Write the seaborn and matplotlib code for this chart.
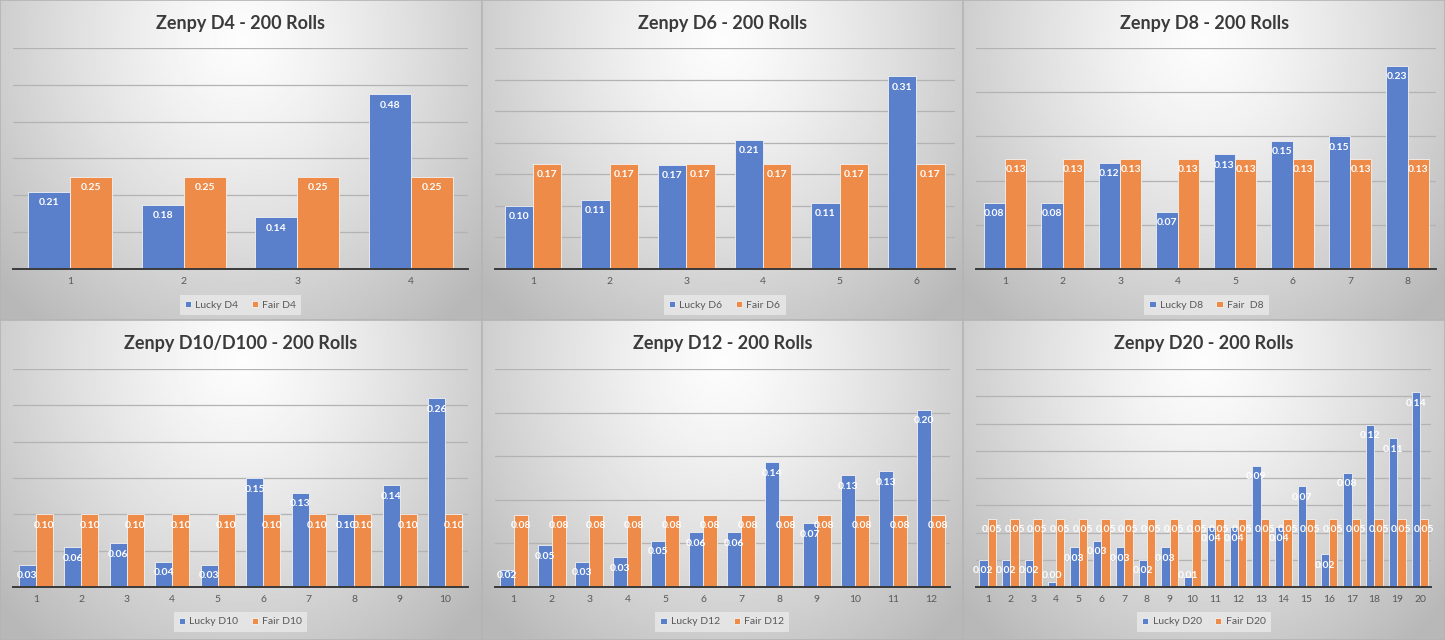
import numpy as np
import pandas as pd
import matplotlib
matplotlib.use("Agg")
import matplotlib.pyplot as plt
import seaborn as sns

# data (fraction of 200 rolls)
d4_faces = ["1", "2", "3", "4"]
d4_lucky = [0.21, 0.175, 0.14, 0.475]
d4_fair = [0.25, 0.25, 0.25, 0.25]

d6_faces = ["1", "2", "3", "4", "5", "6"]
d6_lucky = [0.10, 0.11, 0.165, 0.205, 0.105, 0.305]
d6_fair = [0.167] * 6

d8_faces = ["1", "2", "3", "4", "5", "6", "7", "8"]
d8_lucky = [0.075, 0.075, 0.12, 0.065, 0.13, 0.145, 0.15, 0.23]
d8_fair = [0.125] * 8

d10_faces = ["1", "2", "3", "4", "5", "6", "7", "8", "9", "10"]
d10_lucky = [0.03, 0.055, 0.06, 0.035, 0.03, 0.15, 0.13, 0.10, 0.14, 0.26]
d10_fair = [0.10] * 10

d12_faces = ["1", "2", "3", "4", "5", "6", "7", "8", "9", "10", "11", "12"]
d12_lucky = [0.019, 0.048, 0.029, 0.034, 0.053, 0.063, 0.063, 0.143, 0.073, 0.128, 0.133, 0.203]
d12_fair = [0.083] * 12

d20_faces = [str(i) for i in range(1, 21)]
d20_lucky = [0.02, 0.02, 0.02, 0.004, 0.029, 0.034, 0.029, 0.02, 0.029, 0.007,
             0.044, 0.044, 0.089, 0.044, 0.074, 0.024, 0.084, 0.119, 0.109, 0.143]
d20_fair = [0.05] * 20

titles = ["Zenpy D4 - 200 Rolls", "Zenpy D6 - 200 Rolls", "Zenpy D8 - 200 Rolls",
          "Zenpy D10/D100 - 200 Rolls", "Zenpy D12 - 200 Rolls", "Zenpy D20 - 200 Rolls"]
lucky_names = ["Lucky D4", "Lucky D6", "Lucky D8", "Lucky D10", "Lucky D12", "Lucky D20"]
fair_names = ["Fair D4", "Fair D6", "Fair  D8", "Fair D10", "Fair D12", "Fair D20"]
y_max = [0.6, 0.35, 0.25, 0.30, 0.25, 0.16]
y_step = [0.1, 0.05, 0.05, 0.05, 0.05, 0.02]

panels = [
    (d4_faces, d4_lucky, d4_fair),
    (d6_faces, d6_lucky, d6_fair),
    (d8_faces, d8_lucky, d8_fair),
    (d10_faces, d10_lucky, d10_fair),
    (d12_faces, d12_lucky, d12_fair),
    (d20_faces, d20_lucky, d20_fair),
]

BLUE = "#5a80cc"
ORANGE = "#ee8b49"
W, H = 1445, 640
PW, PH = W / 3, H / 2

sns.set_style("white")
plt.rcParams["font.family"] = ["Lato", "DejaVu Sans"]

fig = plt.figure(figsize=(W / 100, H / 100), dpi=100)

# radial grey background like the Excel chart style
gy, gx = np.mgrid[0:1:200j, 0:1:300j]
dist = np.sqrt(((gx - 0.5) / 0.62) ** 2 + ((gy - 0.12) / 1.05) ** 2)
shade = np.clip(0.99 - 0.24 * dist ** 1.3, 0.72, 1.0)


def fmt(v):
    return f"{v + 1e-9:.2f}"


for i, (faces, lucky, fair) in enumerate(panels):
    row, col = divmod(i, 3)
    x0, y0 = col * PW, row * PH

    bg = fig.add_axes([x0 / W, 1 - (y0 + PH) / H, PW / W, PH / H], zorder=0)
    bg.imshow(shade, cmap="gray", vmin=0, vmax=1, aspect="auto", extent=[0, 1, 0, 1])
    bg.set_xlim(0, 1)
    bg.set_ylim(0, 1)
    bg.axis("off")
    bg.add_patch(plt.Rectangle((0, 0), 1, 1, transform=bg.transAxes, fill=False,
                               edgecolor="#b4b4b4", lw=1.2))
    bg.text(0.5, 1 - 23 / PH, titles[i], ha="center", va="center",
            fontsize=13, fontweight="bold", color="#3b3b3b")

    top = 48 if row == 0 else 49
    base = 269 if row == 0 else 267
    left = 13
    right = 473 if i in (1, 2) else 468
    ax_h = base - top
    ax = fig.add_axes([(x0 + left) / W, 1 - (y0 + base) / H, (right - left) / W, ax_h / H],
                      zorder=1)
    ax.patch.set_alpha(0)

    df = pd.DataFrame({
        "face": faces * 2,
        "series": [lucky_names[i]] * len(faces) + [fair_names[i]] * len(faces),
        "value": list(lucky) + list(fair),
    })
    sns.barplot(data=df, x="face", y="value", hue="series", ax=ax,
                palette=[BLUE, ORANGE], width=0.74, gap=0, saturation=1,
                edgecolor="#f2f2f2", linewidth=0.6, zorder=3)

    ax.set_ylim(0, y_max[i])
    ax.set_yticks(np.arange(y_step[i], y_max[i] + 1e-9, y_step[i]))
    ax.yaxis.grid(True, color="#b3b3b3", lw=0.9, zorder=0)
    ax.set_axisbelow(True)
    ax.set_yticklabels([])
    ax.set_xlabel("")
    ax.set_ylabel("")
    ax.tick_params(axis="both", length=0)
    ax.tick_params(axis="x", labelsize=7.5, labelcolor="#595959", pad=6)
    for s in ["top", "right", "left"]:
        ax.spines[s].set_visible(False)
    ax.spines["bottom"].set_color("#3a3a3a")
    ax.spines["bottom"].set_linewidth(1.4)
    ax.spines["bottom"].set_zorder(4)

    px_per_unit = ax_h / y_max[i]
    for cont, vals in zip(ax.containers, [lucky, fair]):
        for bar, v in zip(cont, vals):
            h_px = v * px_per_unit
            off = max(-11, 12 - h_px)
            ax.annotate(fmt(v), (bar.get_x() + bar.get_width() / 2, v),
                        xytext=(0, off * 0.72), textcoords="offset points",
                        ha="center", va="center", fontsize=7.5, fontweight="bold",
                        color="white", zorder=5)

    leg_off = (36 if row == 0 else 35) / ax_h
    sns.move_legend(ax, "center", bbox_to_anchor=(0.5, -leg_off), ncol=2, title=None,
                    frameon=True, facecolor="#ededed", edgecolor="none", framealpha=0.7,
                    fancybox=False, fontsize=7.5, labelcolor="#595959",
                    handlelength=0.6, handleheight=0.6, handletextpad=0.4,
                    columnspacing=1.3, borderpad=0.5)

fig.savefig("out.png", dpi=100)
